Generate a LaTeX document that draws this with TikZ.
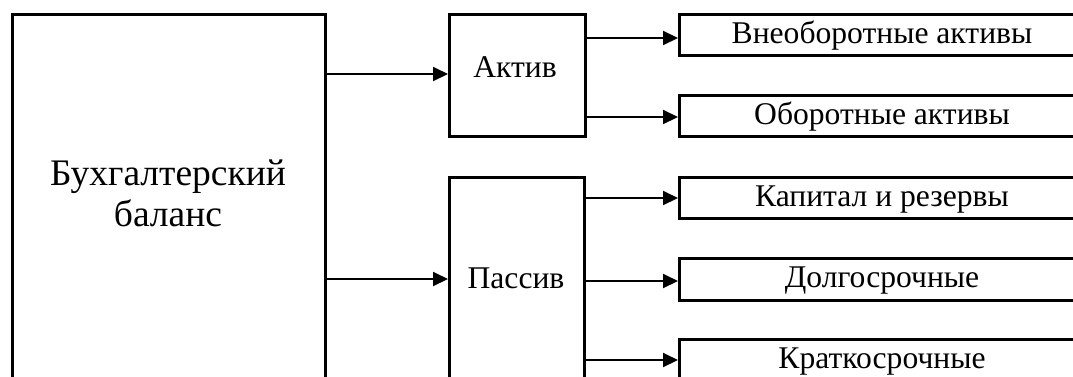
\documentclass[tikz,border=0pt]{standalone}
\usepackage{fontspec}
\setmainfont{Liberation Serif}
\usetikzlibrary{arrows.meta}
\tikzset{
  box/.style={draw=black, line width=3pt, rectangle, inner sep=0pt, anchor=north west},
  lbl/.style={anchor=base, inner sep=0pt, font=\fontsize{31.6}{36}\selectfont},
  arr/.style={draw=black, line width=2pt, -{Triangle[length=15pt,width=14pt]}}
}
\begin{document}
\begin{tikzpicture}[x=1pt,y=-1pt]
\useasboundingbox (0,0) rectangle (1073,376);
% main boxes
\node[box, minimum width=313pt, minimum height=377pt] (bal) at (11,13) {};
\node[box, minimum width=136pt, minimum height=122pt] (akt) at (448,13) {};
\node[box, minimum width=135pt, minimum height=214pt] (pas) at (448,176) {};
% right boxes
\node[box, minimum width=409pt, minimum height=41pt] (vna) at (678,13) {};
\node[box, minimum width=409pt, minimum height=41pt] (oba) at (678,94) {};
\node[box, minimum width=409pt, minimum height=41pt] (kap) at (678,176) {};
\node[box, minimum width=409pt, minimum height=42pt] (dol) at (678,257) {};
\node[box, minimum width=409pt, minimum height=41pt] (kra) at (678,338) {};
% texts
\node[anchor=base, inner sep=0pt, align=center, font=\fontsize{37.5}{41}\selectfont] (balt) at (168,226) {Бухгалтерский\\баланс};
\node[lbl] (aktt) at (515,77) {Актив};
\node[lbl] (past) at (516,288) {Пассив};
\node[lbl] (vnat) at (882,43) {Внеоборотные активы};
\node[lbl] (obat) at (882,124) {Оборотные активы};
\node[lbl] (kapt) at (882,206) {Капитал и резервы};
\node[lbl] (dolt) at (882,287) {Долгосрочные};
\node[lbl] (krat) at (882,368) {Краткосрочные};
% connectors
\draw[arr] (bal.east |- 0,74) -- (akt.west |- 0,74);
\draw[arr] (bal.east |- 0,279) -- (pas.west |- 0,279);
\draw[arr] (akt.east |- 0,38) -- (vna.west |- 0,38);
\draw[arr] (akt.east |- 0,117) -- (oba.west |- 0,117);
\draw[arr] (pas.east |- 0,198) -- (kap.west |- 0,198);
\draw[arr] (pas.east |- 0,281) -- (dol.west |- 0,281);
\draw[arr] (pas.east |- 0,360) -- (kra.west |- 0,360);
\end{tikzpicture}
\end{document}
